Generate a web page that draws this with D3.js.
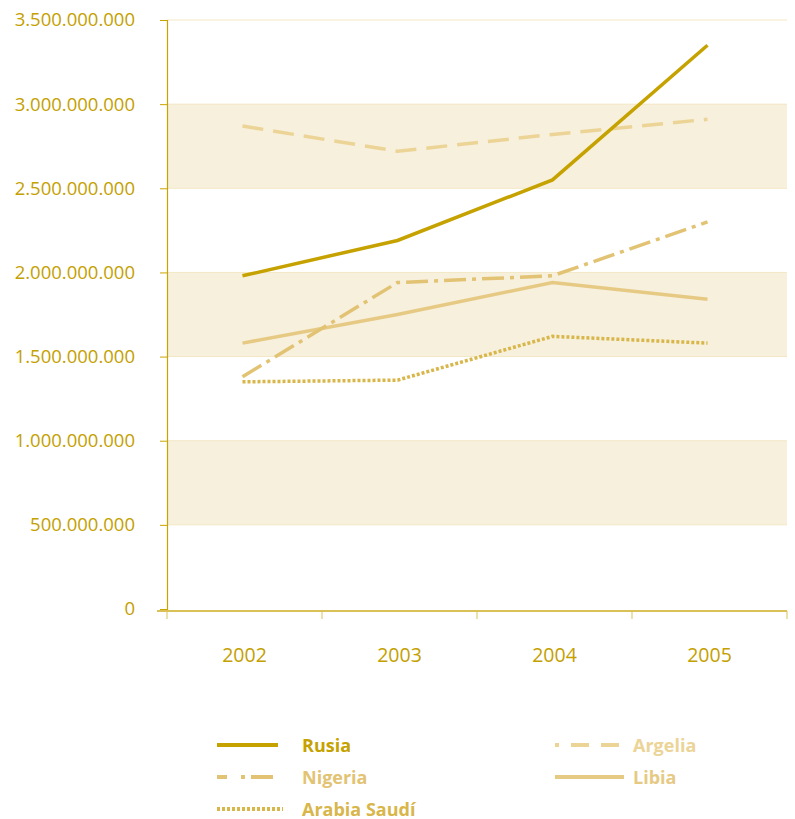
<!DOCTYPE html>
<html>
<head>
<meta charset="utf-8">
<script src="https://cdn.jsdelivr.net/npm/d3@7"></script>
<style>
  body { margin: 0; background: #fff; }
  svg { display: block; font-family: "Open Sans", "Noto Sans", sans-serif; }
</style>
</head>
<body>
<div id="chart"></div>
<script>
/* Importaciones por país, 2002-2005 */

const years = ["2002", "2003", "2004", "2005"];
const yTicks = [0, 500e6, 1000e6, 1500e6, 2000e6, 2500e6, 3000e6, 3500e6];
const bands = [[500e6, 1000e6], [1500e6, 2000e6], [2500e6, 3000e6]];

const rusia   = [1.98e9, 2.19e9, 2.55e9, 3.35e9];
const argelia = [2.87e9, 2.72e9, 2.82e9, 2.91e9];
const nigeria = [1.38e9, 1.94e9, 1.98e9, 2.30e9];
const libia   = [1.58e9, 1.75e9, 1.94e9, 1.84e9];
const arabia  = [1.35e9, 1.36e9, 1.62e9, 1.58e9];

const series = [
    { name: "Rusia",        values: rusia,   color: "#c6a200", dash: null,       legDash: null,       legOff: 0,  legLen: 61, col: 0, row: 0 },
    { name: "Argelia",      values: argelia, color: "#ecd496", dash: "21,10",    legDash: "18,12",    legOff: 14, legLen: 69, col: 1, row: 0 },
    { name: "Nigeria",      values: nigeria, color: "#e2c373", dash: "22,6,4,6", legDash: "22,14,4,6", legOff: 12, legLen: 67, col: 0, row: 1 },
    { name: "Libia",        values: libia,   color: "#e6ca84", dash: null,       legDash: null,       legOff: 0,  legLen: 69, col: 1, row: 1 },
    { name: "Arabia Saudí", values: arabia,  color: "#d8b64a", dash: "3,2",      legDash: "3,2",      legOff: 0,  legLen: 66, col: 0, row: 2 }
];

const width = 795,
      height = 819,
      margin = ({ top: 20, right: 8, bottom: 210, left: 167 });

let svg = d3.select("#chart")
    .append("svg")
    .attr("width", width)
    .attr("height", height);

let x = d3.scaleBand()
    .domain(years)
    .range([margin.left, width - margin.right]);

let y = d3.scaleLinear()
    .domain([0, 3500e6])
    .range([609, margin.top]);

// alternating bands
svg.append("g")
    .selectAll("rect")
    .data(bands)
    .join("rect")
    .attr("x", margin.left)
    .attr("width", width - margin.right - margin.left)
    .attr("y", d => y(d[1]))
    .attr("height", d => y(d[0]) - y(d[1]))
    .attr("fill", "#f7f0dd");

// light gridlines
svg.append("g")
    .selectAll("line")
    .data(yTicks.slice(1))
    .join("line")
    .attr("x1", margin.left)
    .attr("x2", width - margin.right)
    .attr("y1", d => y(d))
    .attr("y2", d => y(d))
    .attr("stroke", "#f3e7c4")
    .attr("stroke-width", 1);

// y axis
let fmt = d3.formatLocale({ decimal: ",", thousands: ".", grouping: [3], currency: ["", "€"] }).format(",d");

let yAxis = svg.append("g")
    .attr("transform", `translate(${margin.left},0)`)
    .call(d3.axisLeft(y).tickValues(yTicks).tickFormat(fmt).tickSize(7).tickPadding(25));
yAxis.select(".domain").attr("stroke", "#c9a400").attr("stroke-width", 1.2);
yAxis.selectAll(".tick line").attr("stroke", "#c9a400");
yAxis.selectAll("text")
    .attr("fill", "#c4a000")
    .style("font-size", "18.5px")
    .style("font-family", "'Open Sans', sans-serif");

// x axis
let xAxis = svg.append("g")
    .attr("transform", `translate(0,${y(0) + 2})`)
    .call(d3.axisBottom(x).tickSize(0).tickPadding(37));
xAxis.select(".domain").remove();
xAxis.selectAll("text")
    .attr("fill", "#c4a000")
    .style("font-size", "19.5px")
    .style("font-family", "'Open Sans', sans-serif");

svg.append("line")
    .attr("x1", margin.left - 10)
    .attr("x2", width - margin.right)
    .attr("y1", y(0) + 2)
    .attr("y2", y(0) + 2)
    .attr("stroke", "#d9c158")
    .attr("stroke-width", 2);

svg.append("g")
    .selectAll("line")
    .data(years.map(d => x(d)).concat([x(years[years.length - 1]) + x.bandwidth()]))
    .join("line")
    .attr("x1", d => d)
    .attr("x2", d => d)
    .attr("y1", y(0) + 2)
    .attr("y2", y(0) + 10)
    .attr("stroke", "#d9c158")
    .attr("stroke-width", 1);

// lines
let px = d => x(d) + x.bandwidth() / 2 - 2;
let line = d3.line()
    .x((d, i) => px(years[i]))
    .y(d => y(d));

let drawOrder = ["Arabia Saudí", "Libia", "Nigeria", "Argelia", "Rusia"];
svg.append("g")
    .selectAll("path")
    .data(drawOrder.map(n => series.find(s => s.name == n)))
    .join("path")
    .attr("d", d => line(d.values))
    .attr("fill", "none")
    .attr("stroke", d => d.color)
    .attr("stroke-width", 3.5)
    .attr("stroke-dasharray", d => d.dash);

// legend
let legend = svg.append("g")
    .selectAll("g")
    .data(series)
    .join("g")
    .attr("transform", d => `translate(${d.col == 0 ? 217 : 555},${745 + d.row * 32})`);

legend.append("line")
    .attr("x1", 0)
    .attr("x2", d => d.legLen)
    .attr("stroke", d => d.color)
    .attr("stroke-width", 4)
    .attr("stroke-dasharray", d => d.legDash)
    .attr("stroke-dashoffset", d => d.legOff);

legend.append("text")
    .text(d => d.name)
    .attr("x", d => d.col == 0 ? 85 : 78)
    .attr("y", 6.5)
    .attr("fill", d => d.color)
    .style("font-size", "18px")
    .style("font-weight", "bold");
</script>
</body>
</html>
